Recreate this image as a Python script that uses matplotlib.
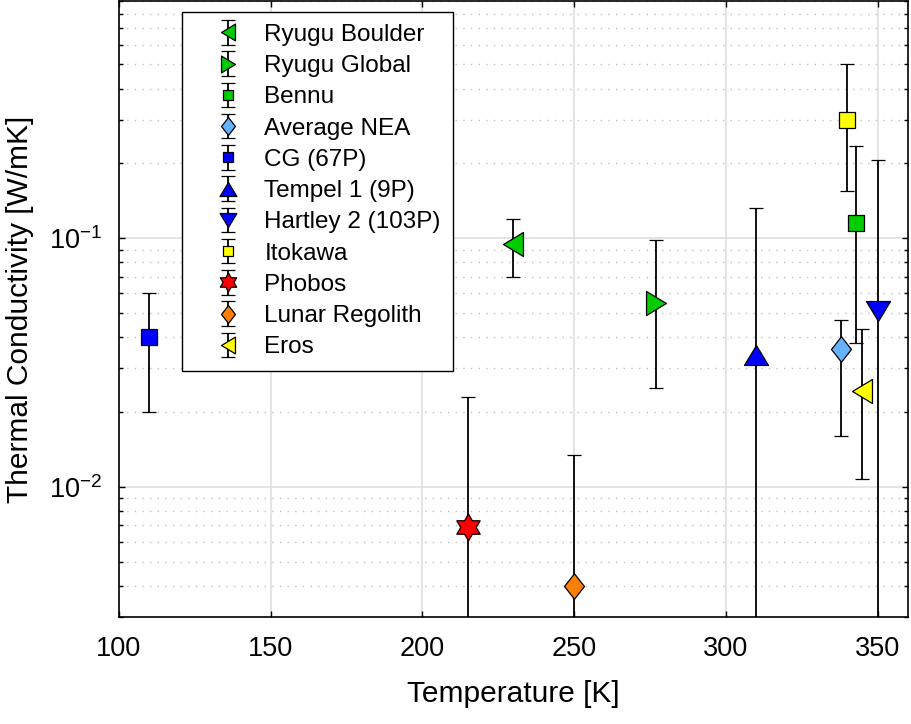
import numpy as np
import matplotlib.pyplot as plt
from matplotlib.path import Path
from matplotlib.legend_handler import HandlerErrorbar
from matplotlib.ticker import LogLocator, NullFormatter, FixedLocator

plt.rcParams['font.family'] = ['Liberation Sans', 'DejaVu Sans']
plt.rcParams['mathtext.fontset'] = 'custom'
plt.rcParams['mathtext.rm'] = 'Liberation Sans'
plt.rcParams['mathtext.default'] = 'regular'

# Данные (читаются с рисунка)
names = ['Ryugu Boulder', 'Ryugu Global', 'Bennu', 'Average NEA', 'CG (67P)',
         'Tempel 1 (9P)', 'Hartley 2 (103P)', 'Itokawa', 'Phobos',
         'Lunar Regolith', 'Eros']
temps = [230, 277, 343, 338, 110, 310, 350, 340, 215, 250, 345]
k_val = [0.095, 0.055, 0.115, 0.036, 0.040, 0.034, 0.051, 0.30, 0.0069, 0.0040, 0.0244]
k_low = [0.070, 0.025, 0.038, 0.016, 0.020, 0.001, 0.001, 0.155, 0.001, 0.001, 0.0108]
k_high = [0.120, 0.098, 0.235, 0.047, 0.060, 0.133, 0.207, 0.50, 0.023, 0.0135, 0.043]
colors = ['#00cc00', '#00cc00', '#00cc00', '#66b2ff', '#0000ff', '#0000ff',
          '#0000ff', '#ffff00', '#ff0000', '#ff8000', '#ffff00']


def poly(verts):
    verts = list(verts) + [verts[0]]
    return Path(verts, closed=True)


tri_left = poly([(-0.83, 0), (0.83, 1), (0.83, -1)])
tri_right = poly([(0.83, 0), (-0.83, 1), (-0.83, -1)])
tri_up = poly([(0, 0.83), (-1, -0.83), (1, -0.83)])
tri_down = poly([(0, -0.83), (-1, 0.83), (1, 0.83)])
diamond = poly([(0, 1), (0.78, 0), (0, -1), (-0.78, 0)])
ang = np.deg2rad(np.arange(12) * 30 + 90)
rad = np.where(np.arange(12) % 2 == 0, 1.0, 1 / np.sqrt(3))
hexagram = poly(list(zip(rad * np.cos(ang), rad * np.sin(ang))))

# маркер и размер для каждой точки
markers = [tri_left, tri_right, 's', diamond, 's', tri_up, tri_down, 's',
           hexagram, diamond, tri_left]
msizes = [17.3, 17.3, 11.2, 18.4, 11.2, 17.3, 17.3, 11.2, 19.4, 18.4, 17.3]

fig = plt.figure(figsize=(9.11, 7.24), dpi=100)
ax = fig.add_axes([0.1306, 0.1478, 0.8661, 0.8508])

for i in range(len(names)):
    yerr = [[k_val[i] - k_low[i]], [k_high[i] - k_val[i]]]
    ax.errorbar(temps[i], k_val[i], yerr=yerr, ls='none',
                marker=markers[i], ms=msizes[i],
                mfc=colors[i], mec='black', mew=0.9,
                ecolor='black', elinewidth=1.3, capsize=5, capthick=1.3,
                label=names[i])

ax.set_yscale('log')
ax.set_xlim(100, 360)
ax.set_ylim(0.003, 0.9)
ax.set_xticks([100, 150, 200, 250, 300, 350])
ax.yaxis.set_major_locator(FixedLocator([0.01, 0.1]))
ax.yaxis.set_major_formatter(plt.FuncFormatter(
    lambda v, p: '$10^{%d}$' % round(np.log10(v))))
ax.yaxis.set_minor_locator(LogLocator(base=10, subs=np.arange(2, 10)))
ax.yaxis.set_minor_formatter(NullFormatter())

ax.set_axisbelow(True)
ax.grid(which='major', color='#dcdcdc', lw=1.1, ls='-')
ax.yaxis.grid(which='minor', color='#c0c0c0', lw=1.0, ls=(0, (1, 4.5)))

ax.tick_params(which='both', direction='in', top=True, right=True,
               width=1.0, labelsize=19.5)
ax.tick_params(axis='x', pad=14)
ax.tick_params(axis='y', pad=12)
ax.tick_params(which='major', length=4.5)
ax.tick_params(which='minor', length=3)
for s in ax.spines.values():
    s.set_linewidth(1.2)

ax.set_xlabel('Temperature [K]', fontsize=21.5, labelpad=13)
ax.set_ylabel('Thermal Conductivity [W/mK]', fontsize=21.5, labelpad=10.5)

leg = ax.legend(loc='upper left', bbox_to_anchor=(0.0795, 0.9826),
                borderaxespad=0, fontsize=17.5, markerscale=0.7,
                fancybox=False, framealpha=1, edgecolor='black',
                borderpad=0.5, handlelength=2.8, handletextpad=0.1,
                labelspacing=0.38,
                handler_map={type(ax.containers[0]): HandlerErrorbar(yerr_size=0.5)})
leg.get_frame().set_linewidth(1.0)

plt.savefig('out.png', dpi=100)
